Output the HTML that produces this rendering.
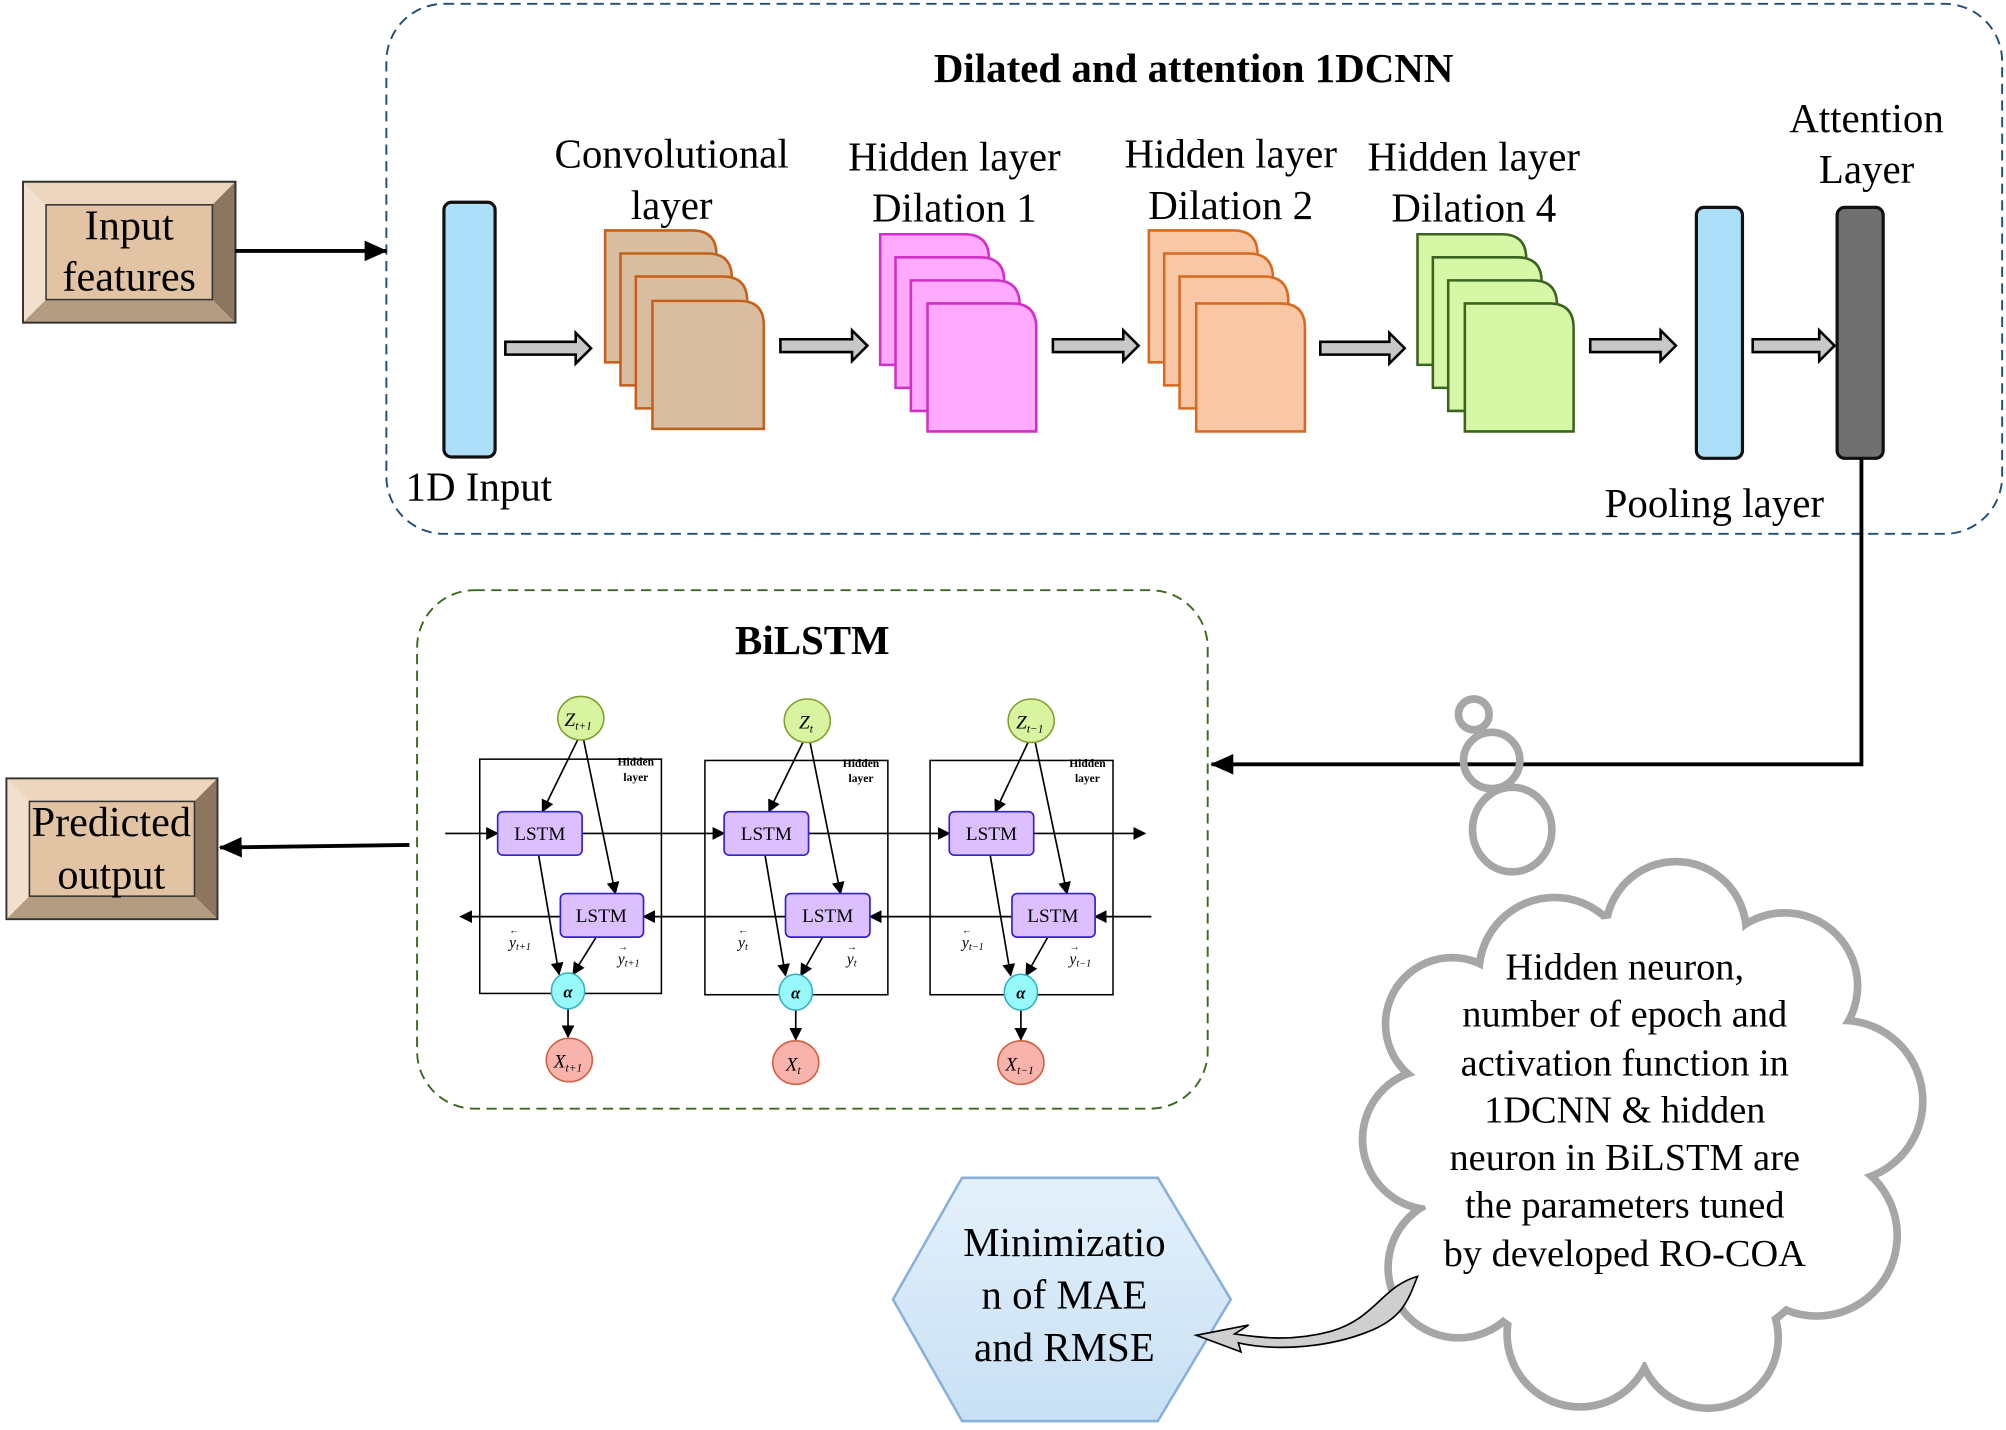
<!DOCTYPE html>
<html><head><meta charset="utf-8"><style>html,body{margin:0;padding:0;background:#fff}svg{display:block}svg text{font-family:"Liberation Serif","Times New Roman",serif}</style></head>
<body>
<svg width="2006" height="1430" viewBox="0 0 1568 1117" preserveAspectRatio="none" xmlns="http://www.w3.org/2000/svg">
<defs>
<marker id="ah" markerWidth="10" markerHeight="10" refX="9" refY="5" orient="auto" markerUnits="userSpaceOnUse"><path d="M0,0 L10,5 L0,10 z" fill="#000"/></marker>
<marker id="ahB" markerWidth="18" markerHeight="16" refX="17" refY="8" orient="auto" markerUnits="userSpaceOnUse"><path d="M0,0 L18,8 L0,16 z" fill="#000"/></marker>
<linearGradient id="hex" x1="0" y1="0" x2="0" y2="1"><stop offset="0" stop-color="#e4f1fb"/><stop offset="1" stop-color="#c8e0f4"/></linearGradient>
</defs>
<rect x="302" y="3" width="1263" height="414" rx="45" fill="none" stroke="#1f4e79" stroke-width="1.5" stroke-dasharray="8,5"/>
<text x="933" y="64" font-size="32" font-weight="bold" text-anchor="middle">Dilated and attention 1DCNN</text>
<g>
<rect x="18" y="142" width="166" height="110" fill="#e2c4a4" stroke="#333" stroke-width="1.5"/>
<polygon points="18,142 184,142 166,160 36,160" fill="#ecd6bd"/>
<polygon points="18,142 36,160 36,234 18,252" fill="#f0e0cc"/>
<polygon points="184,142 184,252 166,234 166,160" fill="#8c7660"/>
<polygon points="18,252 184,252 166,234 36,234" fill="#b49c82"/>
<rect x="18" y="142" width="166" height="110" fill="none" stroke="#333" stroke-width="1.5"/>
<rect x="36" y="160" width="130" height="74" fill="none" stroke="#333" stroke-width="1.2"/>
<text x="101" y="187" font-size="33" text-anchor="middle">Input</text>
<text x="101" y="227" font-size="33" text-anchor="middle">features</text>
</g>
<line x1="184" y1="196" x2="302" y2="196" stroke="#000" stroke-width="3" marker-end="url(#ahB)"/>
<rect x="347" y="158" width="40" height="199" rx="6" fill="#acdff7" stroke="#111" stroke-width="2.5"/>
<text x="317" y="391" font-size="32">1D Input</text>
<g fill="#c8c8c8" stroke="#000" stroke-width="2">
<path d="M395,267 h55 v-7 l12,12 l-12,12 v-7 h-55 z"/>
<path d="M610,265 h56 v-7 l12,12 l-12,12 v-7 h-56 z"/>
<path d="M823,265 h55 v-7 l12,12 l-12,12 v-7 h-55 z"/>
<path d="M1032,267 h54 v-7 l12,12 l-12,12 v-7 h-54 z"/>
<path d="M1243,265 h55 v-7 l12,12 l-12,12 v-7 h-55 z"/>
<path d="M1370,265 h52 v-7 l12,12 l-12,12 v-7 h-52 z"/>
</g>
<g fill="#d9bda0" stroke="#c4601c" stroke-width="2">
<path d="M473,180 h68 q19,0 19,19 v84 h-87 z"/>
<path d="M485,198 h68 q19,0 19,19 v84 h-87 z"/>
<path d="M497,216 h68 q19,0 19,19 v84 h-87 z"/>
<path d="M510,235 h68 q19,0 19,19 v81 h-87 z"/>
</g>
<text x="525" y="131" font-size="32" text-anchor="middle">Convolutional</text>
<text x="525" y="171" font-size="32" text-anchor="middle">layer</text>
<g fill="#ffaaff" stroke="#d030c8" stroke-width="2">
<path d="M688,183 h66 q19,0 19,19 v83 h-85 z"/>
<path d="M700,201 h66 q19,0 19,19 v83 h-85 z"/>
<path d="M712,219 h66 q19,0 19,19 v83 h-85 z"/>
<path d="M725,237 h66 q19,0 19,19 v81 h-85 z"/>
</g>
<text x="746" y="133" font-size="32" text-anchor="middle">Hidden layer</text>
<text x="746" y="173" font-size="32" text-anchor="middle">Dilation 1</text>
<g fill="#f8c7a6" stroke="#d86a20" stroke-width="2">
<path d="M898,180 h66 q19,0 19,19 v84 h-85 z"/>
<path d="M910,198 h66 q19,0 19,19 v84 h-85 z"/>
<path d="M922,216 h66 q19,0 19,19 v84 h-85 z"/>
<path d="M935,237 h66 q19,0 19,19 v81 h-85 z"/>
</g>
<text x="962" y="131" font-size="32" text-anchor="middle">Hidden layer</text>
<text x="962" y="171" font-size="32" text-anchor="middle">Dilation 2</text>
<g fill="#d6f8a6" stroke="#3a6420" stroke-width="2">
<path d="M1108,183 h66 q19,0 19,19 v83 h-85 z"/>
<path d="M1120,201 h66 q19,0 19,19 v83 h-85 z"/>
<path d="M1132,219 h66 q19,0 19,19 v83 h-85 z"/>
<path d="M1145,237 h66 q19,0 19,19 v81 h-85 z"/>
</g>
<text x="1152" y="133" font-size="32" text-anchor="middle">Hidden layer</text>
<text x="1152" y="173" font-size="32" text-anchor="middle">Dilation 4</text>
<rect x="1326" y="162" width="36" height="196" rx="6" fill="#acdff7" stroke="#111" stroke-width="2.5"/>
<text x="1340" y="404" font-size="32" text-anchor="middle">Pooling layer</text>
<rect x="1436" y="162" width="36" height="196" rx="6" fill="#707070" stroke="#111" stroke-width="2.5"/>
<text x="1459" y="103" font-size="32" text-anchor="middle">Attention</text>
<text x="1459" y="143" font-size="32" text-anchor="middle">Layer</text>
<polyline points="1455,358 1455,597 947,597" fill="none" stroke="#000" stroke-width="3" marker-end="url(#ahB)"/>
<rect x="326" y="461" width="618" height="405" rx="45" fill="none" stroke="#3a6a20" stroke-width="1.5" stroke-dasharray="8,5"/>
<text x="635" y="511" font-size="32" font-weight="bold" text-anchor="middle">BiLSTM</text>
<g>
<rect x="5" y="608" width="165" height="110" fill="#e2c4a4"/>
<polygon points="5,608 170,608 152,626 23,626" fill="#ecd6bd"/>
<polygon points="5,608 23,626 23,700 5,718" fill="#f0e0cc"/>
<polygon points="170,608 170,718 152,700 152,626" fill="#8c7660"/>
<polygon points="5,718 170,718 152,700 23,700" fill="#b49c82"/>
<rect x="5" y="608" width="165" height="110" fill="none" stroke="#333" stroke-width="1.5"/>
<rect x="23" y="626" width="129" height="74" fill="none" stroke="#333" stroke-width="1.2"/>
<text x="87" y="653" font-size="33" text-anchor="middle">Predicted</text>
<text x="87" y="694" font-size="33" text-anchor="middle">output</text>
</g>
<line x1="320" y1="660" x2="172" y2="662" stroke="#000" stroke-width="3" marker-end="url(#ahB)"/>
<g stroke="#000" stroke-width="1.2" fill="none">
<rect x="375" y="593" width="142" height="183"/>
<rect x="551" y="594" width="143" height="183"/>
<rect x="727" y="594" width="143" height="183"/>
</g>
<g font-size="9" text-anchor="middle" font-weight="bold">
<text x="497" y="598">Hidden</text><text x="497" y="610">layer</text>
<text x="673" y="599">Hidden</text><text x="673" y="611">layer</text>
<text x="850" y="599">Hidden</text><text x="850" y="611">layer</text>
</g>
<g stroke="#000" stroke-width="1.3" fill="none" marker-end="url(#ah)">
<line x1="348" y1="651" x2="389" y2="651"/>
<line x1="455" y1="651" x2="566" y2="651"/>
<line x1="632" y1="651" x2="742" y2="651"/>
<line x1="808" y1="651" x2="895" y2="651"/>
<line x1="900" y1="716" x2="856" y2="716"/>
<line x1="791" y1="716" x2="680" y2="716"/>
<line x1="614" y1="716" x2="503" y2="716"/>
<line x1="438" y1="716" x2="360" y2="716"/>
<line x1="452" y1="577" x2="424" y2="634"/>
<line x1="456" y1="577" x2="481" y2="698"/>
<line x1="421" y1="668" x2="437" y2="761"/>
<line x1="466" y1="732" x2="448" y2="761"/>
<line x1="444" y1="787" x2="444" y2="810"/>
<line x1="628" y1="579" x2="601" y2="634"/>
<line x1="633" y1="579" x2="657" y2="698"/>
<line x1="598" y1="668" x2="614" y2="762"/>
<line x1="643" y1="732" x2="626" y2="762"/>
<line x1="622" y1="788" x2="622" y2="812"/>
<line x1="804" y1="579" x2="778" y2="634"/>
<line x1="809" y1="579" x2="834" y2="698"/>
<line x1="774" y1="668" x2="790" y2="762"/>
<line x1="819" y1="732" x2="802" y2="762"/>
<line x1="798" y1="788" x2="798" y2="812"/>
</g>
<g fill="#dcbfff" stroke="#3320d0" stroke-width="1.3">
<rect x="389" y="634" width="66" height="34" rx="4"/>
<rect x="566" y="634" width="66" height="34" rx="4"/>
<rect x="742" y="634" width="66" height="34" rx="4"/>
<rect x="438" y="698" width="65" height="34" rx="4"/>
<rect x="614" y="698" width="66" height="34" rx="4"/>
<rect x="791" y="698" width="65" height="34" rx="4"/>
</g>
<g font-size="15" text-anchor="middle">
<text x="422" y="656">LSTM</text><text x="599" y="656">LSTM</text><text x="775" y="656">LSTM</text>
<text x="470" y="720">LSTM</text><text x="647" y="720">LSTM</text><text x="823" y="720">LSTM</text>
</g>
<g fill="#d8f4a0" stroke="#80a030" stroke-width="1.2">
<ellipse cx="454" cy="561" rx="18" ry="17"/><ellipse cx="631" cy="563" rx="18" ry="17"/><ellipse cx="806" cy="563" rx="18" ry="17"/>
</g>
<g fill="#96f8f8" stroke="#30b0c0" stroke-width="1.2">
<ellipse cx="444" cy="774" rx="13" ry="14"/><ellipse cx="622" cy="775" rx="13" ry="14"/><ellipse cx="798" cy="775" rx="13" ry="14"/>
</g>
<g fill="#f8b4ac" stroke="#d06040" stroke-width="1.2">
<ellipse cx="445" cy="828" rx="18" ry="17"/><ellipse cx="622" cy="830" rx="18" ry="17"/><ellipse cx="798" cy="830" rx="18" ry="17"/>
</g>
<g font-size="15" font-style="italic" text-anchor="middle">
<text x="452" y="567">Z<tspan font-size="9" dy="3">t+1</tspan></text>
<text x="630" y="569">Z<tspan font-size="9" dy="3">t</tspan></text>
<text x="805" y="569">Z<tspan font-size="9" dy="3">t−1</tspan></text>
<text x="444" y="779" font-weight="bold" font-size="13">α</text>
<text x="622" y="780" font-weight="bold" font-size="13">α</text>
<text x="798" y="780" font-weight="bold" font-size="13">α</text>
<text x="444" y="834">X<tspan font-size="9" dy="3">t+1</tspan></text>
<text x="620" y="836">X<tspan font-size="9" dy="3">t</tspan></text>
<text x="797" y="836">X<tspan font-size="9" dy="3">t−1</tspan></text>
</g>
<g font-size="12" font-style="italic">
<text x="398" y="729" font-size="8">←</text><text x="398" y="740">y<tspan font-size="8" dy="2">t+1</tspan></text>
<text x="483" y="742" font-size="8">→</text><text x="483" y="753">y<tspan font-size="8" dy="2">t+1</tspan></text>
<text x="577" y="729" font-size="8">←</text><text x="577" y="740">y<tspan font-size="8" dy="2">t</tspan></text>
<text x="662" y="742" font-size="8">→</text><text x="662" y="753">y<tspan font-size="8" dy="2">t</tspan></text>
<text x="752" y="729" font-size="8">←</text><text x="752" y="740">y<tspan font-size="8" dy="2">t−1</tspan></text>
<text x="836" y="742" font-size="8">→</text><text x="836" y="753">y<tspan font-size="8" dy="2">t−1</tspan></text>
</g>
<g fill="none" stroke="#a6a6a6" stroke-width="6">
<circle cx="1152" cy="558" r="12"/>
<circle cx="1166" cy="594" r="22"/>
<ellipse cx="1182" cy="648" rx="31" ry="33"/>
</g>
<g fill="#a6a6a6">
<circle cx="1215" cy="760" r="62"/><circle cx="1310" cy="728" r="58"/><circle cx="1395" cy="770" r="60"/>
<circle cx="1440" cy="860" r="66"/><circle cx="1420" cy="965" r="66"/><circle cx="1335" cy="1045" r="58"/>
<circle cx="1235" cy="1042" r="60"/><circle cx="1140" cy="990" r="58"/><circle cx="1120" cy="890" r="58"/>
<circle cx="1135" cy="800" r="55"/><ellipse cx="1280" cy="890" rx="180" ry="180"/>
</g>
<g fill="#fff">
<circle cx="1215" cy="760" r="56"/><circle cx="1310" cy="728" r="52"/><circle cx="1395" cy="770" r="54"/>
<circle cx="1440" cy="860" r="60"/><circle cx="1420" cy="965" r="60"/><circle cx="1335" cy="1045" r="52"/>
<circle cx="1235" cy="1042" r="54"/><circle cx="1140" cy="990" r="52"/><circle cx="1120" cy="890" r="52"/>
<circle cx="1135" cy="800" r="49"/><ellipse cx="1280" cy="890" rx="174" ry="174"/>
</g>
<g font-size="30" text-anchor="middle">
<text x="1270" y="765">Hidden neuron,</text>
<text x="1270" y="802">number of epoch and</text>
<text x="1270" y="840">activation function in</text>
<text x="1270" y="877">1DCNN &amp; hidden</text>
<text x="1270" y="914">neuron in BiLSTM are</text>
<text x="1270" y="951">the parameters tuned</text>
<text x="1270" y="989">by developed RO-COA</text>
</g>
<polygon points="752,920 905,920 962,1015 905,1110 752,1110 698,1015" fill="url(#hex)" stroke="#88b0d8" stroke-width="2"/>
<g font-size="32" text-anchor="middle">
<text x="832" y="981">Minimizatio</text>
<text x="832" y="1022">n of MAE</text>
<text x="832" y="1063">and RMSE</text>
</g>
<path d="M1108,997 C1080,1005 1075,1030 1040,1040 C1010,1048 985,1045 965,1042 L976,1035 L935,1043 L970,1056 L968,1049 C1000,1056 1040,1052 1070,1040 C1095,1030 1100,1018 1108,997 z" fill="#cfcfcf" stroke="#000" stroke-width="1.3"/>
</svg>
</body></html>
